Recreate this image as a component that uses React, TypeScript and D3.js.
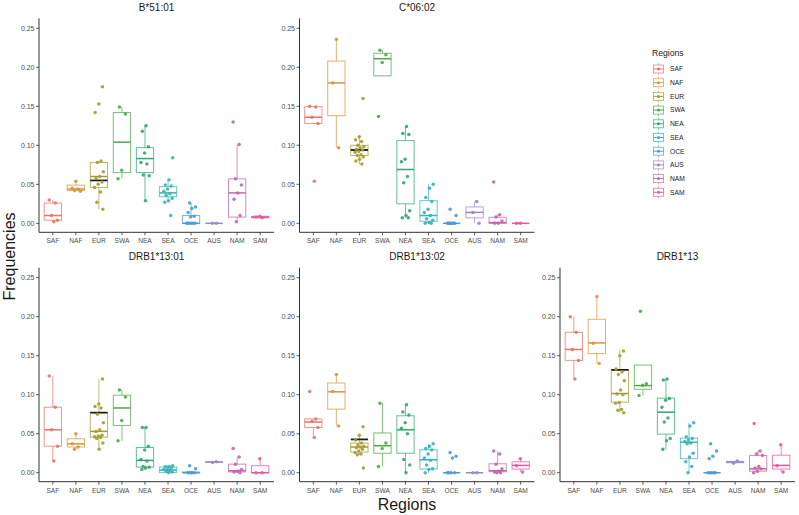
import React from "react";
import * as d3 from "d3";

const regions = ["SAF", "NAF", "EUR", "SWA", "NEA", "SEA", "OCE", "AUS", "NAM", "SAM"];
const regionColors = ["#E57368", "#D8953A", "#A39C2E", "#4FA846", "#2FA86C", "#36B3B3", "#4C9AD6", "#9A86C6", "#C466A6", "#E5579E"];
const panelTitles = ["B*51:01", "C*06:02", "DRB1*13:01", "DRB1*13:02", "DRB1*13"];
const yTicks = [0, 0.05, 0.1, 0.15, 0.2, 0.25];

// box stats per region: [q1, median, q3, whiskerLow, whiskerHigh]
const b5101Box = [
  [0.004, 0.010, 0.026, 0.002, 0.030],
  [0.042, 0.044, 0.049, 0.041, 0.054],
  [0.046, 0.060, 0.078, 0.018, 0.080],
  [0.065, 0.104, 0.142, 0.057, 0.149],
  [0.065, 0.083, 0.097, 0.029, 0.125],
  [0.034, 0.039, 0.047, 0.027, 0.056],
  [0, 0, 0.010, 0, 0.026],
  [0, 0, 0, 0, 0],
  [0.008, 0.039, 0.057, 0.002, 0.101],
  [0.007, 0.008, 0.009, 0.007, 0.009],
];
const b5101Points = [
  [0.030, 0.026, 0.010, 0.004, 0.002],
  [0.054, 0.045, 0.044, 0.042, 0.041],
  [0.175, 0.153, 0.142, 0.080, 0.078, 0.066, 0.060, 0.058, 0.053, 0.050, 0.046, 0.040, 0.027, 0.018],
  [0.149, 0.140, 0.068, 0.057],
  [0.125, 0.118, 0.098, 0.090, 0.078, 0.076, 0.062, 0.061, 0.029],
  [0.084, 0.056, 0.049, 0.048, 0.044, 0.041, 0.038, 0.036, 0.032, 0.029, 0.027, 0.010],
  [0.026, 0.021, 0.019, 0.014, 0.009, 0.008, 0, 0, 0, 0, 0, 0],
  [0, 0],
  [0.130, 0.101, 0.057, 0.049, 0.039, 0.031, 0.010, 0.002],
  [0.009, 0.008, 0.007],
];

const c0602Box = [
  [0.128, 0.136, 0.1495, 0.128, 0.150],
  [0.138, 0.180, 0.208, 0.097, 0.236],
  [0.087, 0.094, 0.100, 0.076, 0.111],
  [0.189, 0.211, 0.218, 0.189, 0.222],
  [0.025, 0.069, 0.106, 0.007, 0.124],
  [0.0026, 0.010, 0.029, 0, 0.050],
  [0, 0, 0, 0, 0],
  [0.007, 0.014, 0.021, 0, 0.028],
  [0, 0.001, 0.0077, 0, 0.011],
  [0, 0, 0, 0, 0],
];
const c0602Points = [
  [0.150, 0.149, 0.136, 0.128, 0.054],
  [0.236, 0.180, 0.097],
  [0.160, 0.111, 0.107, 0.105, 0.100, 0.098, 0.097, 0.095, 0.094, 0.092, 0.091, 0.088, 0.087, 0.085, 0.082, 0.080, 0.076],
  [0.222, 0.216, 0.206, 0.137],
  [0.124, 0.115, 0.114, 0.082, 0.079, 0.060, 0.052, 0.016, 0.010, 0.007, 0.007],
  [0.050, 0.045, 0.033, 0.028, 0.018, 0.014, 0.010, 0.006, 0.004, 0.001, 0, 0],
  [0.018, 0.010, 0, 0, 0, 0, 0, 0, 0],
  [0.028, 0.014, 0],
  [0.053, 0.011, 0.008, 0.003, 0, 0],
  [0, 0],
];

const drb11301Box = [
  [0.034, 0.055, 0.084, 0.015, 0.124],
  [0.033, 0.037, 0.0435, 0.030, 0.050],
  [0.0456, 0.053, 0.077, 0.030, 0.120],
  [0.0606, 0.083, 0.0994, 0.041, 0.106],
  [0.0073, 0.0158, 0.0324, 0.004, 0.058],
  [0.0004, 0.0034, 0.0073, 0, 0.009],
  [0, 0, 0.001, 0, 0.001],
  [0.0135, 0.0137, 0.014, 0.013, 0.014],
  [0.001, 0.0026, 0.011, 0, 0.020],
  [0, 0, 0.009, 0, 0.018],
];
const drb11301Points = [
  [0.124, 0.084, 0.055, 0.034, 0.015],
  [0.050, 0.037, 0.033, 0.030],
  [0.120, 0.088, 0.085, 0.083, 0.075, 0.064, 0.055, 0.053, 0.048, 0.047, 0.046, 0.045, 0.044, 0.038, 0.030],
  [0.106, 0.097, 0.067, 0.041],
  [0.058, 0.058, 0.034, 0.029, 0.017, 0.015, 0.008, 0.007, 0.006, 0.004],
  [0.009, 0.008, 0.008, 0.006, 0.005, 0.004, 0.003, 0.002, 0.001, 0],
  [0.009, 0.005, 0, 0, 0, 0],
  [0.014, 0.013],
  [0.031, 0.020, 0.011, 0.004, 0.002, 0.001, 0],
  [0.018, 0, 0],
];

const drb11302Box = [
  [0.058, 0.065, 0.069, 0.045, 0.069],
  [0.0815, 0.1037, 0.115, 0.060, 0.126],
  [0.0265, 0.033, 0.038, 0.023, 0.048],
  [0.025, 0.0346, 0.051, 0.008, 0.0896],
  [0.025, 0.055, 0.073, 0, 0.087],
  [0.0047, 0.0166, 0.0294, 0, 0.037],
  [0, 0, 0, 0, 0],
  [0, 0, 0, 0, 0],
  [0.0013, 0.0026, 0.0115, 0, 0.028],
  [0.0047, 0.0094, 0.014, 0.001, 0.018],
];
const drb11302Points = [
  [0.104, 0.069, 0.066, 0.058, 0.045],
  [0.126, 0.104, 0.060],
  [0.059, 0.048, 0.042, 0.038, 0.036, 0.034, 0.033, 0.032, 0.030, 0.028, 0.026, 0.024, 0.023, 0.006],
  [0.089, 0.038, 0.031, 0.008],
  [0.087, 0.078, 0.074, 0.064, 0.057, 0.050, 0.017, 0.010, 0],
  [0.037, 0.034, 0.031, 0.029, 0.024, 0.019, 0.016, 0.010, 0.005, 0.004, 0],
  [0.026, 0.021, 0.019, 0, 0, 0, 0],
  [0, 0],
  [0.028, 0.024, 0.011, 0.005, 0.002, 0.001, 0, 0],
  [0.018, 0.009, 0.001],
];

const drb113Box = [
  [0.144, 0.158, 0.180, 0.120, 0.200],
  [0.1527, 0.1664, 0.1967, 0.140, 0.2265],
  [0.0904, 0.1015, 0.132, 0.077, 0.157],
  [0.107, 0.1117, 0.138, 0.099, 0.138],
  [0.0495, 0.0776, 0.0956, 0.030, 0.120],
  [0.018, 0.039, 0.0444, 0, 0.064],
  [0, 0, 0, 0, 0],
  [0.0128, 0.0137, 0.0145, 0.012, 0.015],
  [0.002, 0.005, 0.022, 0, 0.0286],
  [0.0047, 0.0094, 0.0225, 0.001, 0.036],
];
const drb113Points = [
  [0.200, 0.180, 0.158, 0.144, 0.120],
  [0.226, 0.166, 0.140],
  [0.156, 0.150, 0.133, 0.129, 0.126, 0.118, 0.106, 0.101, 0.100, 0.090, 0.089, 0.081, 0.080, 0.077],
  [0.207, 0.114, 0.112, 0.099],
  [0.120, 0.119, 0.095, 0.093, 0.084, 0.070, 0.065, 0.044, 0.041, 0.030],
  [0.064, 0.060, 0.046, 0.044, 0.042, 0.040, 0.038, 0.037, 0.025, 0.020, 0.014, 0.008, 0],
  [0.037, 0.028, 0.021, 0.018, 0, 0, 0, 0, 0],
  [0.015, 0.012],
  [0.063, 0.028, 0.024, 0.022, 0.008, 0.006, 0.005, 0.002, 0],
  [0.036, 0.009, 0.001],
];

// black reference line drawn over the EUR box in each panel
const eurReference = [0.055, 0.094, 0.077, 0.0427, 0.1318];

const panelBoxes = [b5101Box, c0602Box, drb11301Box, drb11302Box, drb113Box];
const panelPoints = [b5101Points, c0602Points, drb11301Points, drb11302Points, drb113Points];

const W = 799;
const H = 515;
const PANEL_W = 235;
const PANEL_H = 214;
const panelLayout = [
  { x: 39, y: 18.3 },
  { x: 299.5, y: 18.3 },
  { x: 39, y: 267.7 },
  { x: 299.5, y: 267.7 },
  { x: 560, y: 267.7 },
];
const FONT = "Liberation Sans, Arial, Helvetica, sans-serif";

function jitter(i: number, r: number) {
  const v = ((i * 0.6180339 + r * 0.37 + 0.13) % 1) - 0.5;
  return v * 0.42;
}

function Panel({ idx }: { idx: number }) {
  const { x: px, y: py } = panelLayout[idx];
  // discrete axis with 0.6-unit expansion on both sides
  const x = d3.scalePoint<string>().domain(regions).range([0, PANEL_W]).padding(0.6);
  const unit = x.step();
  const y = d3.scaleLinear().domain([-0.0115, 0.2628]).range([PANEL_H, 0]);
  const boxes = panelBoxes[idx];
  const pts = panelPoints[idx];
  const bw = unit * 0.75;
  return (
    <g transform={`translate(${px},${py})`}>
      <text x={PANEL_W / 2} y={-7.3} textAnchor="middle" fontSize={10} fill="#1a1a1a" fontFamily={FONT}>
        {panelTitles[idx]}
      </text>
      {boxes.map((b, i) => {
        const [q1, med, q3, lo, hi] = b;
        const c = regionColors[i];
        const xc = x(regions[i]) as number;
        return (
          <g key={"b" + i}>
            <line x1={xc} x2={xc} y1={y(q3)} y2={y(hi)} stroke={c} strokeOpacity={0.7} strokeWidth={1} />
            <line x1={xc} x2={xc} y1={y(q1)} y2={y(lo)} stroke={c} strokeOpacity={0.7} strokeWidth={1} />
            <rect x={xc - bw / 2} y={y(q3)} width={bw} height={Math.max(0, y(q1) - y(q3))} fill="white" fillOpacity={0.6} stroke={c} strokeOpacity={0.75} strokeWidth={1} />
            <line x1={xc - bw / 2} x2={xc + bw / 2} y1={y(med)} y2={y(med)} stroke={c} strokeWidth={1.5} />
          </g>
        );
      })}
      <line x1={(x("EUR") as number) - bw / 2} x2={(x("EUR") as number) + bw / 2} y1={y(eurReference[idx])} y2={y(eurReference[idx])} stroke="#1f1f1f" strokeWidth={1.8} />
      {pts.map((arr, i) =>
        arr.map((v, k) => (
          <circle key={`p${i}-${k}`} cx={(x(regions[i]) as number) + jitter(k, i) * unit} cy={y(v)} r={1.75} fill={regionColors[i]} fillOpacity={0.9} />
        ))
      )}
      <line x1={0} x2={0} y1={0} y2={PANEL_H} stroke="#333" strokeWidth={1} />
      <line x1={0} x2={PANEL_W} y1={PANEL_H} y2={PANEL_H} stroke="#333" strokeWidth={1} />
      {yTicks.map((t) => (
        <g key={"yt" + t}>
          <line x1={-3} x2={0} y1={y(t)} y2={y(t)} stroke="#333" strokeWidth={0.8} />
          <text x={-4.5} y={y(t)} dy="0.35em" textAnchor="end" fontSize={7} fill="#4d4d4d" fontFamily={FONT}>
            {d3.format(".2f")(t)}
          </text>
        </g>
      ))}
      {regions.map((r) => (
        <g key={"xt" + r}>
          <line x1={x(r) as number} x2={x(r) as number} y1={PANEL_H} y2={PANEL_H + 3} stroke="#333" strokeWidth={0.8} />
          <text x={x(r) as number} y={PANEL_H + 11} textAnchor="middle" fontSize={6.6} fill="#4d4d4d" fontFamily={FONT}>
            {r}
          </text>
        </g>
      ))}
    </g>
  );
}

function Legend() {
  const lx = 652;
  const ly = 53;
  const step = 13.7;
  return (
    <g>
      <text x={lx} y={ly} dy="0.35em" fontSize={8.6} fill="#1a1a1a" fontFamily={FONT}>
        Regions
      </text>
      {regions.map((r, i) => {
        const yc = 69 + i * step;
        const c = regionColors[i];
        const kx = 658.5;
        return (
          <g key={"lg" + r}>
            <line x1={kx} x2={kx} y1={yc - 6} y2={yc + 6} stroke={c} strokeOpacity={0.6} strokeWidth={0.9} />
            <rect x={kx - 5} y={yc - 4} width={10} height={8} fill="white" stroke={c} strokeOpacity={0.75} strokeWidth={0.9} />
            <line x1={kx - 5} x2={kx + 5} y1={yc} y2={yc} stroke={c} strokeWidth={1} />
            <circle cx={kx} cy={yc} r={1.5} fill={c} />
            <text x={670} y={yc} dy="0.35em" fontSize={6.7} fill="#1a1a1a" fontFamily={FONT}>
              {r}
            </text>
          </g>
        );
      })}
    </g>
  );
}

export default function App() {
  return (
    <svg width={W} height={H} style={{ position: "absolute", left: 0, top: 0, background: "white" }}>
      <rect x={0} y={0} width={W} height={H} fill="white" />
      {panelTitles.map((_, i) => (
        <Panel key={i} idx={i} />
      ))}
      <Legend />
      <text transform={`translate(15,256.5) rotate(-90)`} textAnchor="middle" fontSize={16} fill="#1a1a1a" fontFamily={FONT}>
        Frequencies
      </text>
      <text x={407} y={510} textAnchor="middle" fontSize={16} fill="#1a1a1a" fontFamily={FONT}>
        Regions
      </text>
    </svg>
  );
}
